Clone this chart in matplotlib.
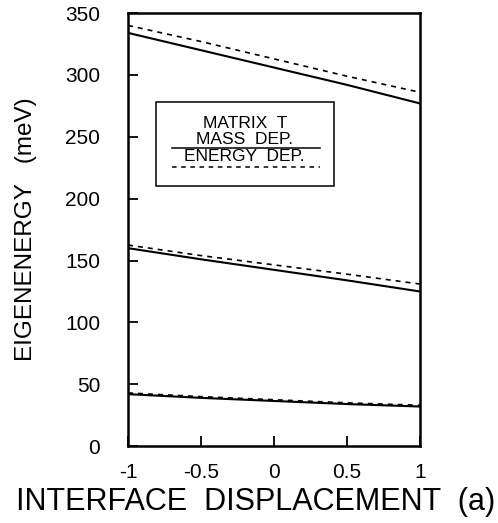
import matplotlib
matplotlib.use("Agg")
import matplotlib.pyplot as plt

plt.rcParams['font.family'] = ['Liberation Sans', 'DejaVu Sans']

x = [-1, -0.5, 0, 0.5, 1]
# matrix T, mass dependent (solid)
mass1 = [42, 39, 36.5, 34, 32]
mass2 = [160, 151, 142.5, 134, 125]
mass3 = [334, 320, 306, 292, 277]
# energy dependent (dashed)
energy1 = [43, 40, 37.5, 35, 33]
energy2 = [162.5, 154, 146.5, 139, 131]
energy3 = [340, 327, 313, 299, 286]

fig = plt.figure(figsize=(4.98, 5.23), dpi=100)
ax = fig.add_axes([0.257, 0.147, 0.586, 0.828])

for y in [mass1, mass2, mass3]:
    ax.plot(x, y, color="black", lw=1.5)
for y in [energy1, energy2, energy3]:
    ax.plot(x, y, color="black", lw=1.2, ls=(0, (3, 3)))

ax.set_xlim(-1, 1)
ax.set_ylim(0, 350)
ax.set_xticks([-1, -0.5, 0, 0.5, 1])
ax.set_xticklabels(["-1", "-0.5", "0", "0.5", "1"])
ax.set_yticks(range(0, 351, 50))
ax.tick_params(direction="in", length=7, width=1.3, labelsize=15)
ax.tick_params(axis="x", pad=12)
ax.tick_params(axis="y", pad=20)
for s in ax.spines.values():
    s.set_linewidth(1.8)

fig.text(256 / 498, 1 - 502 / 523, "INTERFACE  DISPLACEMENT  (a)",
         ha="center", va="center", fontsize=22)
ax.set_ylabel("EIGENENERGY   (meV)", fontsize=17.5, labelpad=20)

# legend box drawn by hand like in the original
ax.add_patch(plt.Rectangle((-0.81, 210), 1.22, 68, fill=False, lw=1.1, color="black"))
ax.text(-0.20, 261, "MATRIX  T", ha="center", va="center", fontsize=12.5)
ax.text(-0.20, 247.5, "MASS  DEP.", ha="center", va="center", fontsize=12.5)
ax.plot([-0.70, 0.315], [241, 241], color="black", lw=1.1)
ax.text(-0.20, 234, "ENERGY  DEP.", ha="center", va="center", fontsize=12.5)
ax.plot([-0.70, 0.315], [225.5, 225.5], color="black", lw=1.1, ls=(0, (3, 3)))

fig.savefig("out.png", dpi=100)
